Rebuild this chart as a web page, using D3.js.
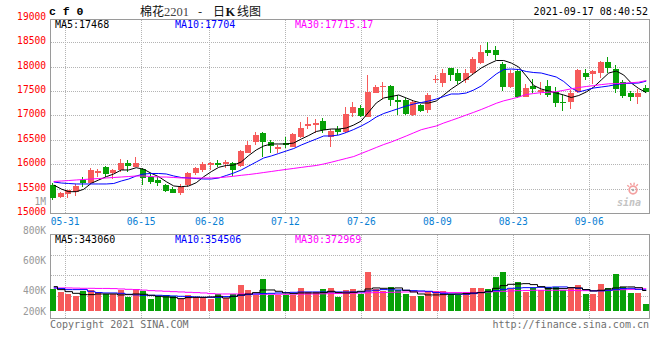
<!DOCTYPE html>
<html><head><meta charset="utf-8">
<script src="https://cdn.jsdelivr.net/npm/d3@7"></script>
<style>
html,body{margin:0;padding:0;background:#fff;}
svg{display:block;}
text{font-family:"DejaVu Sans Mono",monospace;font-size:10px;}
</style></head><body>
<svg id="chart" width="660" height="360"></svg>
<script>
// ---------- data ----------
const dates = ["05-28","05-31","06-01","06-02","06-03","06-04","06-07","06-08","06-09","06-10",
"06-11","06-15","06-16","06-17","06-18","06-21","06-22","06-23","06-24","06-25",
"06-28","06-29","06-30","07-01","07-02","07-05","07-06","07-07","07-08","07-09",
"07-12","07-13","07-14","07-15","07-16","07-19","07-20","07-21","07-22","07-23",
"07-26","07-27","07-28","07-29","07-30","08-02","08-03","08-04","08-05","08-06",
"08-09","08-10","08-11","08-12","08-13","08-16","08-17","08-18","08-19","08-20",
"08-23","08-24","08-25","08-26","08-27","08-30","08-31","09-01","09-02","09-03",
"09-06","09-07","09-08","09-09","09-10","09-13","09-14","09-15","09-16","09-17"];
const open = [15574,15334,15390,15437,15677,15621,15826,15949,15826,15882,
16019,15949,15896,15744,15677,15574,15492,15416,15574,15814,
15882,15984,16031,16011,16019,15964,16236,16456,16646,16449,
16306,16429,16359,16552,16784,16810,16892,16552,16722,16667,
17056,17159,16974,17466,17577,17604,17317,17317,17009,17214,
17112,17733,17659,17979,17876,17727,17864,18069,18342,18342,
18055,17589,17917,17384,17604,17487,17604,17487,17282,17282,
17487,17876,17843,17864,18089,17946,17692,17466,17384,17556];
const high = [15609,15437,15480,15590,15744,15929,15902,15964,15902,16107,
16087,16154,15929,15826,15744,15595,15539,15588,15847,15949,
16039,16052,16087,16087,16039,16292,16476,16667,16667,16497,
16394,16564,16646,16872,16962,16921,16941,16722,16790,17179,
17282,17214,17829,17624,17679,17624,17419,17351,17317,17235,
17466,17829,17946,17979,17946,17946,18204,18444,18499,18430,
18089,17932,17946,17645,17741,17679,17727,17589,17419,17522,
17946,17946,17932,18122,18204,18034,17727,17501,17542,17624];
const low = [15267,15314,15301,15355,15539,15595,15744,15744,15691,15834,
15847,15949,15574,15595,15554,15437,15404,15369,15539,15779,
15847,15882,15949,15916,15765,15949,16223,16394,16154,16236,
16236,16339,16347,16531,16716,16634,16634,16359,16593,16646,
16974,16974,16962,17454,17337,17194,17009,17009,16989,17077,
17056,17659,17589,17712,17645,17671,17843,18048,18219,18137,
17501,17556,17351,17372,17454,17419,17384,17179,17097,17132,
17454,17727,17645,17761,17864,17454,17351,17302,17235,17454];
const close = [15301,15416,15472,15560,15621,15882,15855,15800,15882,16019,
15970,16019,15711,15636,15609,15457,15416,15539,15826,15916,
15998,16019,15984,16046,15882,16271,16394,16593,16456,16380,
16359,16394,16620,16736,16825,16851,16702,16681,16667,17030,
17179,16989,17487,17589,17604,17317,17276,17030,17282,17091,
17419,17747,17876,17829,17712,17876,18157,18301,18286,18239,
17589,17876,17384,17556,17542,17522,17419,17262,17268,17454,
17932,17794,17911,18102,17966,17536,17399,17384,17466,17487];
const volume = [368000,318000,285000,251000,330000,358000,325000,285000,285000,358000,
234000,368000,330000,201000,246000,275000,246000,208000,275000,234000,
234000,208000,285000,218000,285000,430000,347000,275000,536000,275000,
275000,275000,275000,380000,325000,325000,363000,380000,234000,347000,
363000,285000,648000,368000,330000,397000,358000,285000,246000,246000,
330000,330000,330000,285000,275000,313000,380000,380000,363000,564000,
648000,368000,481000,313000,385000,347000,397000,397000,347000,380000,
430000,280000,280000,447000,380000,615000,397000,296000,296000,112000];
const ma5 = [15574,15492,15437,15437,15486,15609,15677,15744,15800,15882,
15882,15929,15896,15814,15744,15642,15554,15539,15554,15621,
15744,15847,15937,15974,15984,16046,16179,16292,16374,16415,
16415,16415,16435,16517,16589,16671,16702,16722,16722,16743,
16804,16886,17071,17255,17358,17388,17419,17358,17296,17255,
17255,17296,17419,17542,17645,17747,17860,17973,18055,18126,
18126,18075,17993,17809,17614,17542,17501,17460,17419,17368,
17409,17481,17583,17727,17870,17911,17829,17665,17552,17468];
const ma10 = [15636,15615,15605,15595,15595,15595,15595,15595,15605,15656,
15697,15759,15800,15810,15810,15800,15759,15728,15718,15707,
15697,15697,15718,15769,15820,15882,15964,16046,16128,16169,
16220,16271,16322,16394,16456,16517,16579,16579,16599,16650,
16712,16784,16866,16968,17040,17091,17142,17194,17235,17265,
17296,17337,17388,17440,17440,17460,17522,17604,17727,17850,
17942,17952,17942,17901,17880,17870,17829,17788,17696,17563,
17481,17522,17563,17583,17604,17634,17655,17659,17665,17704];
const ma30 = [15646,15656,15666,15677,15687,15697,15707,15718,15728,15738,
15748,15759,15759,15748,15738,15738,15728,15718,15718,15718,
15718,15718,15724,15738,15754,15773,15789,15808,15830,15851,
15873,15894,15914,15935,15955,15974,16005,16041,16080,16119,
16158,16220,16281,16343,16404,16456,16517,16579,16644,16708,
16747,16784,16845,16898,16952,17009,17064,17122,17185,17249,
17300,17337,17378,17429,17450,17468,17476,17487,17515,17546,
17573,17593,17612,17632,17649,17653,17659,17671,17683,17715.17];
const vma5 = [408000,358000,324000,296000,274000,274000,285000,285000,285000,269000,
274000,285000,280000,263000,246000,235000,224000,207000,224000,229000,
229000,235000,246000,218000,246000,269000,285000,308000,352000,352000,
330000,302000,291000,302000,302000,302000,308000,330000,308000,302000,
313000,330000,369000,386000,380000,380000,386000,347000,319000,285000,
269000,269000,274000,280000,285000,291000,302000,308000,330000,380000,
425000,447000,453000,458000,442000,408000,375000,375000,375000,391000,
386000,358000,336000,347000,369000,386000,403000,403000,391000,343060];
const vma10 = [386000,375000,358000,358000,358000,330000,308000,302000,302000,296000,
280000,269000,263000,263000,263000,257000,252000,246000,241000,235000,
229000,229000,229000,241000,246000,263000,274000,285000,291000,296000,
302000,308000,313000,319000,319000,319000,319000,319000,319000,319000,
319000,319000,336000,347000,358000,355000,352000,347000,341000,336000,
330000,308000,296000,285000,280000,280000,291000,308000,324000,341000,
363000,380000,386000,391000,391000,397000,397000,403000,403000,391000,
380000,358000,336000,336000,347000,363000,375000,380000,363000,354506];
const vma30 = [386000,386000,386000,383000,380000,380000,378000,378000,375000,369000,
363000,358000,350000,341000,336000,330000,324000,319000,313000,308000,
302000,291000,285000,285000,285000,285000,285000,283000,280000,280000,
280000,280000,283000,283000,285000,285000,288000,291000,293000,296000,
299000,302000,305000,308000,310000,313000,316000,319000,322000,322000,
324000,319000,313000,308000,308000,308000,308000,313000,319000,324000,
330000,336000,341000,344000,347000,347000,347000,347000,347000,344000,
341000,341000,341000,344000,347000,352000,357000,362000,367000,372969];
const dateTicks = ["05-31","06-15","06-28","07-12","07-26","08-09","08-23","09-06"];
const priceTicks = [15000,15500,16000,16500,17000,17500,18000,18500,19000];
const volTicks = [200000,400000,600000,800000];
const volTickLabels = ["200K","400K","600K","800K"];

// ---------- drawing ----------
const RED = "#f65a5a", GREEN = "#08a108";
const GRID = "#b4b4b4", FRAME = "#9a9a9a";
const svg = d3.select("#chart");
const last = a => a[a.length - 1];

const xBand = d3.scaleBand().domain(dates).range([50, 650]);
const xMid = d => xBand(d) + xBand.bandwidth() / 2;
// date grid of the original uses a slightly wider step than the candle slots
const xGrid = d3.scaleLinear().domain([-1, dates.length - 2]).range([50, 650]);
const yP = d3.scaleLinear().domain([15000, 19000]).range([213, 17.9]);
const yV = d3.scaleLinear().domain([0, 700000]).range([311, 269.2]);
const yVLab = d3.scaleLinear().domain(volTicks).range([314.5, 294, 263.7, 234.3]);
const volGrid = d3.scaleLinear().domain([0, 3]).range([234.5, 295.5]);

const crisp = v => Math.round(v) + 0.5;

// grids
const g = svg.append("g").attr("stroke", GRID).attr("stroke-dasharray", "1,1").attr("shape-rendering", "crispEdges");
priceTicks.slice(1, -1).forEach(v => {
  g.append("line").attr("x1", 51).attr("x2", 649).attr("y1", crisp(yP(v))).attr("y2", crisp(yP(v)));
});
[1, 2, 3].forEach(k => {
  g.append("line").attr("x1", 51).attr("x2", 649).attr("y1", crisp(volGrid(k))).attr("y2", crisp(volGrid(k)));
});
dateTicks.forEach(t => {
  const x = crisp(xGrid(dates.indexOf(t)));
  g.append("line").attr("x1", x).attr("x2", x).attr("y1", 20).attr("y2", 213);
  g.append("line").attr("x1", x).attr("x2", x).attr("y1", 235).attr("y2", 318);
});

// frames
const fr = svg.append("g").attr("stroke", FRAME).attr("fill", "none").attr("shape-rendering", "crispEdges");
fr.append("rect").attr("x", 50.5).attr("y", 19.5).attr("width", 599).attr("height", 194);
fr.append("rect").attr("x", 50.5).attr("y", 234.5).attr("width", 599).attr("height", 84);

// sina watermark
const wm = svg.append("g");
wm.append("text").attr("x", 617).attr("y", 206).attr("font-family", "Liberation Sans, Arial, sans-serif")
  .attr("font-size", 16).attr("font-style", "italic").attr("font-weight", "bold").attr("fill", "#c4c4c4").text("sina");
wm.append("circle").attr("cx", 633).attr("cy", 190).attr("r", 3.8).attr("fill", "none").attr("stroke", "#f4a0a0").attr("stroke-width", 1.8);
wm.append("circle").attr("cx", 633).attr("cy", 190).attr("r", 1.3).attr("fill", "#aaaaaa");
[-50, -20, 10, 40].forEach(a => {
  const r = a * Math.PI / 180;
  wm.append("line").attr("x1", 633 + 5 * Math.sin(r)).attr("y1", 190 - 5 * Math.cos(r))
    .attr("x2", 633 + 7.5 * Math.sin(r)).attr("y2", 190 - 7.5 * Math.cos(r))
    .attr("stroke", "#f4a0a0").attr("stroke-width", 1.4);
});

// candles
const cg = svg.append("g");
dates.forEach((d, i) => {
  const col = close[i] >= open[i] ? RED : GREEN;
  const bx = Math.floor(xBand(d) + (xBand.bandwidth() - 6) / 2);
  const yt = Math.round(yP(Math.max(open[i], close[i])));
  const yb = Math.round(yP(Math.min(open[i], close[i])));
  cg.append("line").attr("x1", bx + 2.5).attr("x2", bx + 2.5)
    .attr("y1", Math.round(yP(high[i]))).attr("y2", Math.round(yP(low[i])))
    .attr("stroke", col).attr("shape-rendering", "crispEdges");
  cg.append("rect").attr("x", bx).attr("y", yt).attr("width", 6).attr("height", Math.max(1, yb - yt))
    .attr("fill", col).attr("shape-rendering", "crispEdges");
});

// price MAs
const priceLine = d3.line().x((v, i) => xMid(dates[i])).y(v => yP(v));
[[ma5, "#000000"], [ma10, "#0000ff"], [ma30, "#ff00ff"]].forEach(([arr, c]) => {
  svg.append("path").attr("d", priceLine(arr)).attr("fill", "none").attr("stroke", c).attr("stroke-width", 1);
});

// volume bars
const vg = svg.append("g");
dates.forEach((d, i) => {
  const col = close[i] >= open[i] ? RED : GREEN;
  const bx = Math.floor(xBand(d) + (xBand.bandwidth() - 6) / 2);
  const yt = Math.round(yV(volume[i]));
  vg.append("rect").attr("x", bx).attr("y", yt).attr("width", 6).attr("height", yV(0) - yt)
    .attr("fill", col).attr("shape-rendering", "crispEdges");
});
const volLine = d3.line().x((v, i) => xMid(dates[i])).y(v => yV(v)).curve(d3.curveStep);
[[vma30, "#ff00ff"], [vma10, "#0000ff"], [vma5, "#000000"]].forEach(([arr, c]) => {
  svg.append("path").attr("d", volLine(arr)).attr("fill", "none").attr("stroke", c).attr("stroke-width", 1);
});

// axis labels
const tg = svg.append("g");
priceTicks.forEach(v => {
  tg.append("text").attr("x", 46).attr("y", yP(v) + 2).attr("text-anchor", "end")
    .attr("fill", "#ff0000").style("font-size", "9.6px").text(v);
});
tg.append("text").attr("x", 46).attr("y", 204.5).attr("text-anchor", "end").attr("fill", "#999").style("font-size", "9.6px").text("1M");
dateTicks.forEach(t => {
  tg.append("text").attr("x", xGrid(dates.indexOf(t))).attr("y", 225).attr("text-anchor", "middle")
    .attr("fill", "#0a80d4").style("font-size", "9.6px").text(t);
});
volTicks.forEach((v, k) => {
  tg.append("text").attr("x", 46).attr("y", yVLab(v)).attr("text-anchor", "end")
    .attr("fill", "#999").style("font-size", "9.6px").text(volTickLabels[k]);
});

// legends
const lg = [["MA5:", ma5, vma5, "#000000", 55], ["MA10:", ma10, vma10, "#0000ff", 175], ["MA30:", ma30, vma30, "#ff00ff", 295]];
lg.forEach(([lab, pa, va, c, x]) => {
  tg.append("text").attr("x", x).attr("y", 28).attr("fill", c).text(lab + last(pa));
  tg.append("text").attr("x", x).attr("y", 242.5).attr("fill", c).text(lab + last(va));
});

// header
tg.append("text").attr("x", 49).attr("y", 15)
  .style("font-family", "Liberation Mono, monospace").style("font-size", "11.5px").attr("font-weight", "bold").text("c f 0");
const title = tg.append("text").attr("y", 15.5).style("font-family", "Noto Sans CJK SC, sans-serif").style("font-size", "12px").attr("fill", "#111");
title.append("tspan").attr("x", 140).text("棉花");
title.append("tspan").attr("x", 164).style("font-family", "Liberation Serif, serif").style("font-size", "12.5px").attr("fill", "#444").text("2201");
title.append("tspan").attr("x", 198).text("-");
title.append("tspan").attr("x", 213).text("日");
title.append("tspan").attr("x", 225.5).style("font-family", "Liberation Serif, serif").attr("font-weight", "bold").style("font-size", "12.5px").text("K");
title.append("tspan").attr("x", 237).text("线图");
tg.append("text").attr("x", 648).attr("y", 15).attr("text-anchor", "end").attr("fill", "#000").text("2021-09-17 08:40:52");

// footer
tg.append("text").attr("x", 50).attr("y", 327.5).attr("fill", "#707070").text("Copyright 2021 SINA.COM");
tg.append("text").attr("x", 649).attr("y", 327.5).attr("text-anchor", "end").attr("fill", "#707070").text("http://finance.sina.com.cn");
</script>
</body></html>
